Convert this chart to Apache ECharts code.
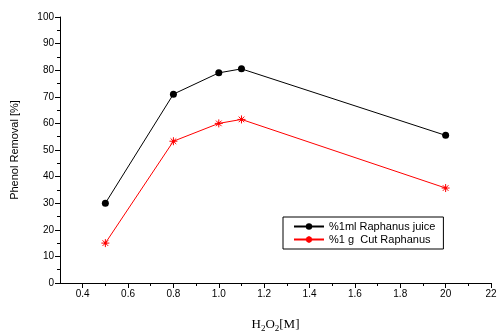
<!DOCTYPE html>
<html>
<head>
<meta charset="utf-8">
<script src="https://cdn.jsdelivr.net/npm/echarts@6/dist/echarts.min.js"></script>
<style>
  html, body { margin: 0; padding: 0; background: #fff; }
  #main { width: 499px; height: 331px; }
</style>
</head>
<body>
<div id="main"></div>
<script>
// values
var xValues = [0.5, 0.8, 1.0, 1.1, 2.0];
var juiceValues = [30, 71, 79, 80.5, 55.5];
var cutValues = [15, 53.3, 60, 61.5, 35.7];
var seriesNames = ['%1ml Raphanus juice', '%1 g  Cut Raphanus'];

var xTickValues = [0.4, 0.6, 0.8, 1.0, 1.2, 1.4, 1.6, 1.8, 2.0, 2.2];
var xTickLabels = ['0.4', '0.6', '0.8', '1.0', '1.2', '1.4', '1.6', '1.8', '20', '22'];
var xMinorValues = [0.5, 0.7, 0.9, 1.1, 1.3, 1.5, 1.7, 1.9, 2.1];

var starPath = 'path://M0,5L10,5M5,0L5,10M1.5,1.5L8.5,8.5M8.5,1.5L1.5,8.5M4,4L6,4L6,6L4,6Z';
var font = 'Liberation Sans';

var myChart = echarts.init(document.getElementById('main'));

function pairs(ys) {
    return xValues.map(function (x, i) { return [x, ys[i]]; });
}

var option = {
    backgroundColor: '#fff',
    animation: false,
    grid: { left: 60, right: 8, top: 17, bottom: 48, outerBoundsMode: 'none', containLabel: false },
    legend: {
        orient: 'vertical',
        left: 283,
        top: 217,
        width: 169,
        padding: [4, 8, 4, 10],
        itemGap: 2,
        itemWidth: 30,
        itemHeight: 8,
        borderColor: '#000',
        borderWidth: 1,
        textStyle: { fontFamily: font, fontSize: 11, color: '#000' },
        data: seriesNames
    },
    xAxis: [{
        type: 'value',
        min: 0.3,
        max: 2.2,
        name: '{a|H}{s|2}{a|O}{s|2}{a|[M]}',
        nameLocation: 'middle',
        nameGap: 33,
        nameTextStyle: {
            rich: {
                a: { fontFamily: 'Liberation Serif', fontSize: 13, color: '#000' },
                s: { fontFamily: 'Liberation Serif', fontSize: 9, color: '#000', padding: [8, 0, 0, 0] }
            }
        },
        axisLine: { lineStyle: { color: '#000', width: 1 } },
        axisTick: { customValues: xTickValues, length: 5, lineStyle: { color: '#000' } },
        axisLabel: {
            customValues: xTickValues,
            color: '#000',
            fontFamily: font,
            fontSize: 10,
            margin: 6,
            formatter: function (v) {
                for (var i = 0; i < xTickValues.length; i++) {
                    if (Math.abs(xTickValues[i] - v) < 1e-6) return xTickLabels[i];
                }
                return '';
            }
        },
        splitLine: { show: false }
    }, {
        type: 'value',
        min: 0.3,
        max: 2.2,
        position: 'bottom',
        axisLine: { show: false },
        axisTick: { customValues: xMinorValues, length: 3, lineStyle: { color: '#000' } },
        axisLabel: { show: false },
        splitLine: { show: false }
    }],
    yAxis: {
        type: 'value',
        min: 0,
        max: 100,
        interval: 10,
        name: 'Phenol Removal [%]',
        nameLocation: 'middle',
        nameGap: 40,
        nameTextStyle: { fontFamily: font, fontSize: 11, color: '#000' },
        axisLine: { show: true, lineStyle: { color: '#000', width: 1 } },
        axisTick: { show: true, length: 5, lineStyle: { color: '#000' } },
        minorTick: { show: true, splitNumber: 2, length: 3, lineStyle: { color: '#000' } },
        axisLabel: { color: '#000', fontFamily: font, fontSize: 10, margin: 6 },
        splitLine: { show: false }
    },
    series: [{
        name: seriesNames[0],
        type: 'line',
        xAxisIndex: 0,
        symbol: 'circle',
        symbolSize: 7,
        itemStyle: { color: '#000' },
        lineStyle: { color: '#000', width: 1 },
        data: pairs(juiceValues)
    }, {
        name: seriesNames[1],
        type: 'line',
        xAxisIndex: 0,
        symbol: starPath,
        symbolSize: 8,
        itemStyle: { color: '#f00', borderColor: '#f00', borderWidth: 1 },
        lineStyle: { color: '#f00', width: 1 },
        data: pairs(cutValues)
    }]
};

myChart.setOption(option);
</script>
</body>
</html>
